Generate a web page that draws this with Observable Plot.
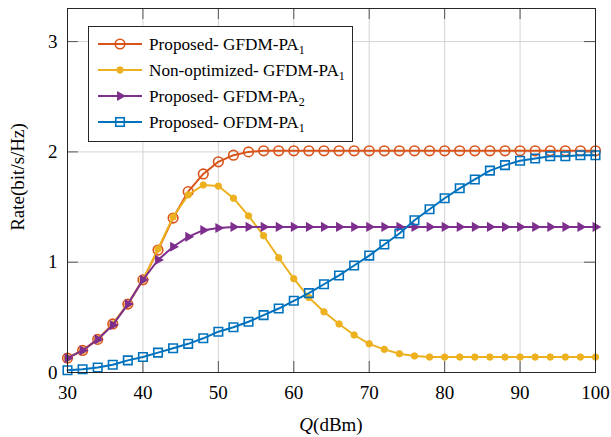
<!DOCTYPE html>
<html><head><meta charset="utf-8">
<script src="https://cdn.jsdelivr.net/npm/d3@7"></script>
<script src="https://cdn.jsdelivr.net/npm/@observablehq/plot@0.6"></script>
<style>body{margin:0;background:#fff}#chart{position:relative}</style>
</head><body><div id="chart"></div>
<script>
const Q = [30,32,34,36,38,40,42,44,46,48,50,52,54,56,58,60,62,64,66,68,70,72,74,76,78,80,82,84,86,88,90,92,94,96,98,100];
const propGFDM1 = [0.13,0.20,0.30,0.44,0.62,0.84,1.11,1.40,1.64,1.80,1.91,1.97,2.00,2.01,2.01,2.01,2.01,2.01,2.01,2.01,2.01,2.01,2.01,2.01,2.01,2.01,2.01,2.01,2.01,2.01,2.01,2.01,2.01,2.01,2.01,2.01];
const nonOptGFDM1 = [0.13,0.20,0.30,0.44,0.62,0.84,1.12,1.41,1.61,1.70,1.69,1.58,1.42,1.24,1.04,0.85,0.68,0.55,0.44,0.34,0.26,0.21,0.17,0.15,0.14,0.14,0.14,0.14,0.14,0.14,0.14,0.14,0.14,0.14,0.14,0.14];
const propGFDM2 = [0.13,0.20,0.30,0.43,0.62,0.84,1.02,1.14,1.23,1.29,1.31,1.32,1.32,1.32,1.32,1.32,1.32,1.32,1.32,1.32,1.32,1.32,1.32,1.32,1.32,1.32,1.32,1.32,1.32,1.32,1.32,1.32,1.32,1.32,1.32,1.32];
const propOFDM1 = [0.02,0.03,0.045,0.07,0.11,0.14,0.18,0.22,0.26,0.31,0.37,0.41,0.46,0.52,0.58,0.65,0.72,0.80,0.88,0.97,1.06,1.16,1.26,1.38,1.48,1.58,1.67,1.75,1.83,1.88,1.92,1.94,1.96,1.96,1.97,1.97];
const xTicks = [30,40,50,60,70,80,90,100];
const yTicks = [0,1,2,3];
const seriesNames = ["Proposed- GFDM-PA", "Non-optimized- GFDM-PA", "Proposed- GFDM-PA", "Proposed- OFDM-PA"];
const seriesSubs = ["1","1","2","1"];
const colors = ["#D95319","#EDB120","#7E2F8E","#0072BD"];

const rows = s => Q.map((q,i)=>({q, v:s[i]}));
const d0 = rows(propGFDM1), d1 = rows(nonOptGFDM1), d2 = rows(propGFDM2), d3r = rows(propOFDM1);
const font = "Liberation Serif";

const plot = Plot.plot({
  width: 611, height: 437,
  marginLeft: 67, marginRight: 16, marginTop: 8, marginBottom: 65,
  x: {domain:[30,100]}, y: {domain:[0,3.3]},
  style: {fontFamily: font, background:"#fff"},
  marks: [
    Plot.gridX(xTicks, {stroke:"#d4d4d4", strokeOpacity:1}),
    Plot.gridY(yTicks, {stroke:"#d4d4d4", strokeOpacity:1}),
    Plot.ruleX(xTicks, {y1:0, y2:0.1, stroke:"#555"}),
    Plot.ruleX(xTicks, {y1:3.3, y2:3.2, stroke:"#555"}),
    Plot.ruleY(yTicks, {x1:30, x2:31.45, stroke:"#555"}),
    Plot.ruleY(yTicks, {x1:100, x2:98.55, stroke:"#555"}),
    Plot.axisX(xTicks, {tickSize:0, tickPadding:13, fontSize:19, label:null, fill:"#000", fontFamily:font, tickFormat:d=>String(d)}),
    Plot.axisY(yTicks, {tickSize:0, tickPadding:10, fontSize:19, label:null, fill:"#000", fontFamily:font, tickFormat:d=>String(d)}),
    Plot.line(d0, {x:"q", y:"v", stroke:colors[0], strokeWidth:2}),
    Plot.dot(d0, {x:"q", y:"v", stroke:colors[0], fill:"none", r:4.8, strokeWidth:1.6}),
    Plot.line(d1, {x:"q", y:"v", stroke:colors[1], strokeWidth:2}),
    Plot.dot(d1, {x:"q", y:"v", fill:colors[1], stroke:colors[1], r:3.2, strokeWidth:1}),
    Plot.line(d2, {x:"q", y:"v", stroke:colors[2], strokeWidth:2}),
    Plot.dot(d2, {x:"q", y:"v", fill:colors[2], symbol:"triangle", rotate:90, r:3.8}),
    Plot.line(d3r, {x:"q", y:"v", stroke:colors[3], strokeWidth:2}),
    Plot.dot(d3r, {x:"q", y:"v", stroke:colors[3], fill:"none", symbol:"square", r:4.8, strokeWidth:1.6}),
    Plot.frame({stroke:"#262626", strokeWidth:1})
  ]
});
document.getElementById("chart").appendChild(plot);

const svg = d3.select(plot);
// axis labels
svg.append("text").attr("x", 331).attr("y", 431).attr("text-anchor","middle")
  .attr("font-size", 19).attr("fill","#000").attr("font-family", font)
  .call(t => { t.append("tspan").attr("font-style","italic").text("Q"); t.append("tspan").text("(dBm)"); });
svg.append("text").attr("transform","translate(24,177) rotate(-90)").attr("text-anchor","middle")
  .attr("font-size", 19).attr("fill","#000").attr("font-family", font).text("Rate(bit/s/Hz)");

// legend
const lg = svg.append("g");
lg.append("rect").attr("x",88.5).attr("y",26.5).attr("width",264).attr("height",115)
  .attr("fill","#fff").attr("stroke","#262626").attr("stroke-width",1);
const ys = [44,70,96,122];
seriesNames.forEach((name,i) => {
  const y = ys[i];
  lg.append("line").attr("x1",98).attr("x2",142).attr("y1",y).attr("y2",y)
    .attr("stroke",colors[i]).attr("stroke-width",2);
  if (i===0) lg.append("circle").attr("cx",120).attr("cy",y).attr("r",4.8).attr("fill","none").attr("stroke",colors[0]).attr("stroke-width",1.6);
  if (i===1) lg.append("circle").attr("cx",120).attr("cy",y).attr("r",3.2).attr("fill",colors[1]).attr("stroke",colors[1]);
  if (i===2) lg.append("path").attr("d", d3.symbol(d3.symbolTriangle, Math.PI*3.8*3.8)()).attr("transform",`translate(120,${y}) rotate(90)`).attr("fill",colors[2]);
  if (i===3) lg.append("rect").attr("x",120-4.25).attr("y",y-4.25).attr("width",8.5).attr("height",8.5).attr("fill","none").attr("stroke",colors[3]).attr("stroke-width",1.6);
  const t = lg.append("text").attr("x",149).attr("y",y+5.5).attr("text-anchor","start").attr("font-size",17.2).attr("fill","#000").attr("font-family", font);
  t.append("tspan").text(name);
  t.append("tspan").attr("font-size",12).attr("dy",4).text(seriesSubs[i]);
});
</script></body></html>
